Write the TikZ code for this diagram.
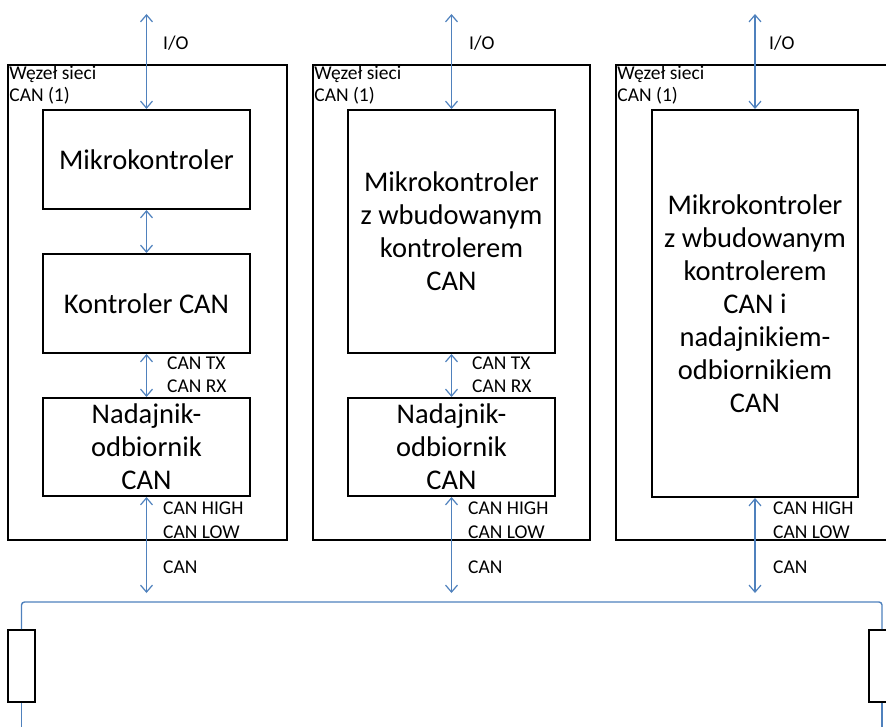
\documentclass[tikz,border=0pt]{standalone}
\usepackage{fontspec}
\setmainfont{Carlito}
\usetikzlibrary{arrows.meta, positioning}
\definecolor{linkblue}{RGB}{79,129,189}

\begin{document}
\begin{tikzpicture}[
        x=1pt, y=-1pt,
        wezel/.style={rectangle, draw=black, line width=1.6pt, minimum width=#1, minimum height=475, inner sep=0},
        blok/.style={rectangle, draw=black, line width=2pt, minimum width=207, align=center, inner sep=0, font=\fontsize{28.5}{33}\selectfont},
        opis/.style={inner sep=0, align=left, font=\fontsize{19.5}{23.5}\selectfont},
        rezystor/.style={rectangle, draw=black, line width=2pt, minimum width=27, minimum height=72, inner sep=0},
        lacze/.style={{Straight Barb[length=7pt,width=12pt]}-{Straight Barb[length=7pt,width=12pt]}, linkblue, line width=1.2pt},
        szyna/.style={linkblue, line width=1.4pt, rounded corners=3pt}
    ]
        \useasboundingbox (0,0) rectangle (886,727);

        % wezly sieci
        \node[wezel=279] (w1) at (147.5,302.5) {};
        \node[wezel=277] (w2) at (451.5,302.5) {};
        \node[wezel=276] (w3) at (754,302.5) {};
        \node[opis, anchor=north west, inner sep=2pt, font=\fontsize{19.5}{22}\selectfont] (n1) at (w1.north west) {Węzeł sieci\\CAN (1)};
        \node[opis, anchor=north west, inner sep=2pt, font=\fontsize{19.5}{22}\selectfont] (n2) at (w2.north west) {Węzeł sieci\\CAN (1)};
        \node[opis, anchor=north west, inner sep=2pt, font=\fontsize{19.5}{22}\selectfont] (n3) at (w3.north west) {Węzeł sieci\\CAN (1)};

        % bloki
        \node[blok, minimum height=99] (mk1) at (146.5,159.5) {Mikrokontroler};
        \node[blok, minimum height=99] (kc1) at (146.5,303.5) {Kontroler CAN};
        \node[blok, minimum height=98] (nk1) at (146.5,447) {Nadajnik-\\odbiornik\\CAN};
        \node[blok, minimum height=243] (mk2) at (451.5,231.5) {Mikrokontroler\\z wbudowanym\\kontrolerem\\CAN};
        \node[blok, minimum height=98] (nk2) at (451.5,447) {Nadajnik-\\odbiornik\\CAN};
        \node[blok, minimum width=206, minimum height=387] (mk3) at (755,303.5) {Mikrokontroler\\z wbudowanym\\kontrolerem\\CAN i\\nadajnikiem-\\odbiornikiem\\CAN};

        % magistrala
        \node[rezystor] (r1) at (21.5,666) {};
        \node[rezystor] (r2) at (882,666) {};
        \coordinate (b1) at (21.5,602);
        \coordinate (b2) at (882,602);
        \coordinate (d1) at (21.5,727);
        \coordinate (d2) at (882,727);
        \draw[szyna] (r1.north) -- (b1) -- (b2) -- (r2.north);
        \draw[szyna] (r1.south) -- (d1);
        \draw[szyna] (r2.south) -- (d2);

        % polaczenia
        \coordinate (io1) at (146.5,14);
        \coordinate (io2) at (451.5,14);
        \coordinate (io3) at (755,14);
        \coordinate (c1) at (146.5,593);
        \coordinate (c2) at (451.5,593);
        \coordinate (c3) at (755,593);
        \draw[lacze] (io1) -- (mk1.north);
        \draw[lacze] (io2) -- (mk2.north);
        \draw[lacze] (io3) -- (mk3.north);
        \draw[lacze] (mk1) -- (kc1);
        \draw[lacze] (kc1) -- (nk1);
        \draw[lacze] (mk2) -- (nk2);
        \draw[lacze] (nk1.south) -- (c1);
        \draw[lacze] (nk2.south) -- (c2);
        \draw[lacze] (mk3.south) -- (c3);

        % opisy
        \node[opis, anchor=west] (l1) at (163,43) {I/O};
        \node[opis, anchor=west] (l2) at (469,43) {I/O};
        \node[opis, anchor=west] (l3) at (769,43) {I/O};
        \node[opis, anchor=west] (tx1) at (167,374.5) {CAN TX\\CAN RX};
        \node[opis, anchor=west] (tx2) at (472,374.5) {CAN TX\\CAN RX};
        \node[opis, anchor=west] (hl1) at (163,520) {CAN HIGH\\CAN LOW};
        \node[opis, anchor=west] (hl2) at (468,520) {CAN HIGH\\CAN LOW};
        \node[opis, anchor=west] (hl3) at (773,520) {CAN HIGH\\CAN LOW};
        \node[opis, anchor=west] (can1) at (163,567) {CAN};
        \node[opis, anchor=west] (can2) at (468,567) {CAN};
        \node[opis, anchor=west] (can3) at (773,567) {CAN};
    \end{tikzpicture}
\end{document}
